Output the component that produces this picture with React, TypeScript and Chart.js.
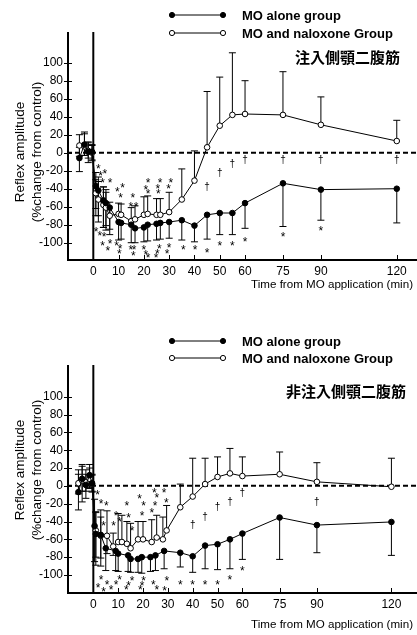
import React, { useEffect, useRef } from 'react';
import { Chart, registerables } from 'chart.js';
Chart.register(...registerables);

const FONT = "Arial, 'Liberation Sans', sans-serif";
const CJK = "'Noto Sans CJK JP', 'Noto Sans CJK SC', sans-serif";

// ---------- shared labels ----------
const xTickValues = [0, 10, 20, 30, 40, 50, 60, 75, 90, 120];
const yTickValues = [-100, -80, -60, -40, -20, 0, 20, 40, 60, 80, 100];
const legendLabels = ['MO alone group', 'MO and naloxone Group'];
const xTitle = 'Time from MO application (min)';
const yTitleLines = ['Reflex amplitude', '(%change from control)'];
const topTitle = '注入側顎二腹筋';
const bottomTitle = '非注入側顎二腹筋';

// ---------- top panel (注入側) ----------
const topTimes = [-5.5, -3.5, -2, -0.5, 1, 2, 4, 5, 6.5, 10, 11, 15, 16.5, 20, 21.5, 25, 26.5, 30, 35, 40, 45, 50, 55, 60, 75, 90, 120];
const topMeanAlone = [-6, 9, 1, 1, -37, -42, -53, -56, -61, -77, -78, -80, -84, -83, -80, -79, -78, -77, -75, -81, -69, -67, -67, -56, -34, -41, -40];
const topSdDownAlone = [15, 12, 12, 10, 25, 28, 30, 30, 30, 20, 18, 20, 16, 16, 18, 18, 18, 18, 22, 18, 27, 24, 24, 28, 48, 34, 38];
const topSdUpAlone = [12, 14, 10, 8, 15, 15, 15, 12, 0, 0, 0, 0, 0, 0, 0, 0, 0, 0, 0, 0, 0, 0, 0, 0, 0, 0, 0];
const topMeanNal = [8, 7, 2, 0, -45, -52, -58, -61, -70, -68, -69, -76, -74, -69, -68, -69, -69, -66, -52, -31, 6, 30, 42, 43, 42, 31, 13];
const topSdUpNal = [12, 14, 10, 8, 15, 20, 20, 20, 15, 12, 12, 15, 15, 20, 20, 18, 18, 22, 34, 33, 62, 54, 69, 37, 48, 31, 23];
const topSdDownNal = [12, 10, 8, 8, 25, 25, 25, 20, 15, 0, 0, 0, 0, 0, 0, 0, 0, 0, 0, 0, 0, 0, 0, 0, 0, 0, 0];
const topStars: [number, number][] = [
  [2.0, -15], [2.9, -23], [4.6, -21], [3.7, -31], [6.6, -31], [9.5, -41], [11.6, -36], [10.8, -47],
  [15.6, -47], [14.8, -57], [16.9, -57], [21.7, -31], [20.8, -38], [21.7, -43], [26.4, -31], [25.5, -37],
  [25.7, -43], [30.7, -31], [29.8, -37],
  [1.1, -85], [2.6, -89], [4.3, -90], [3.7, -101], [5.7, -106], [6.6, -98], [9.2, -101], [10.6, -104],
  [10.3, -109], [14.8, -105], [16.1, -105], [15.8, -112], [20, -105], [20.8, -111], [21.7, -114], [24.8, -114],
  [25.3, -109], [26.1, -104], [29.2, -109], [30, -103], [35.6, -105], [40.2, -105], [45, -108], [50, -101],
  [55, -101], [60, -96], [75, -90], [90, -84],
];
const topDaggers: [number, number][] = [[45, -38], [50, -23], [55, -12], [60, -8], [75, -8], [90, -8], [120, -8]];

// ---------- bottom panel (非注入側) ----------
const botTimesAlone = [-6, -4.5, -3, -1.5, -0.5, 0.5, 1, 3, 5, 9, 10, 14, 15, 18, 19.5, 23, 25, 28.5, 35, 40, 45, 50, 55, 60, 75, 90, 120];
const botMeanAlone = [-7, 8, 1, 12, 3, -45, -54, -55, -70, -73, -76, -78, -82, -82, -80, -80, -78, -73, -75, -79, -67, -65.5, -60, -53.5, -35.5, -44, -40.5];
const botSdDownAlone = [20, 26, 15, 15, 10, 40, 35, 35, 25, 22, 20, 18, 15, 15, 18, 16, 17, 20, 16, 18, 26, 28.5, 33, 29, 47, 31, 37.5];
const botSdUpAlone = [20, 16, 12, 12, 10, 30, 25, 20, 0, 0, 0, 0, 0, 0, 0, 0, 0, 0, 0, 0, 0, 0, 0, 0, 0, 0, 0];
const botTimesNal = [-6, -4.5, -3, -1.5, -0.5, 1, 3, 5.5, 8, 10, 11.5, 13.5, 15, 18, 20, 23.5, 25.5, 28, 29.5, 35, 40, 45, 50, 55, 60, 75, 90, 120];
const botMeanNal = [3, 6, 4, 8, 2, -50, -56, -56, -68, -63, -63, -65, -70, -60, -60, -63, -58, -60, -50, -24, -12, 2, 10, 14, 11, 13, 4.5, -1];
const botSdUpNal = [15, 16, 14, 12, 10, 20, 29, 28, 15, 32, 30, 25, 28, 20, 20, 25, 25, 25, 28, 26, 43, 29, 22.5, 28, 21.5, 25, 21.5, 32];
const botSdDownNal = [12, 12, 10, 10, 8, 30, 25, 20, 10, 0, 0, 0, 0, 0, 0, 0, 0, 0, 0, 0, 0, 0, 0, 0, 0, 0, 0, 0];
const botStars: [number, number][] = [
  [1.7, -7], [3.1, -17], [5.2, -20], [4.1, -42], [9.2, -31], [10.6, -37], [13.5, -20], [14.2, -33],
  [8.2, -42], [15.6, -48], [18.6, -12], [20.2, -20], [19.6, -31], [24.9, -19], [23.6, -27], [24.6, -5],
  [25.6, -10], [28.5, -5], [29.4, -16],
  [3.1, -102], [1.9, -112], [4.1, -116], [5.5, -108], [7.1, -114], [9.2, -108], [10.6, -102], [13.3, -114],
  [14.2, -109], [15.6, -104], [18.9, -114], [19.6, -109], [20.2, -104], [24.2, -108], [25.6, -114], [28.7, -115],
  [29.6, -104], [35, -108], [40, -108], [45, -108], [50, -108], [55, -103], [60, -92],
];
const botDaggers: [number, number][] = [[40, -44], [45, -35], [50, -24], [55, -18], [60, -8.5], [90, -18]];

type Group = { times: number[]; mean: number[]; sdUp: number[]; sdDown: number[]; filled: boolean };
type PanelCfg = {
  height: number; padTop: number; xAxisH: number;
  xMin: number; xMax: number; yMin: number; yMax: number;
  legendY: number[]; title: string; titleY: number; titleRight: number;
  yTitleCenter: number; xTitleY: number;
  groups: Group[]; stars: [number, number][]; daggers: [number, number][];
};

const panels: PanelCfg[] = [
  {
    height: 300, padTop: 32, xAxisH: 40, xMin: -10.4, xMax: 128, yMin: -119.2, yMax: 134.1,
    legendY: [15, 33], title: topTitle, titleY: 57, titleRight: 400, yTitleCenter: 152, xTitleY: 285,
    groups: [
      { times: topTimes, mean: topMeanAlone, sdUp: topSdUpAlone, sdDown: topSdDownAlone, filled: true },
      { times: topTimes, mean: topMeanNal, sdUp: topSdUpNal, sdDown: topSdDownNal, filled: false },
    ],
    stars: topStars, daggers: topDaggers,
  },
  {
    height: 315, padTop: 45, xAxisH: 42, xMin: -10.6, xMax: 130.3, yMin: -120.2, yMax: 135.6,
    legendY: [21, 38], title: bottomTitle, titleY: 71, titleRight: 406, yTitleCenter: 150, xTitleY: 305,
    groups: [
      { times: botTimesAlone, mean: botMeanAlone, sdUp: botSdUpAlone, sdDown: botSdDownAlone, filled: true },
      { times: botTimesNal, mean: botMeanNal, sdUp: botSdUpNal, sdDown: botSdDownNal, filled: false },
    ],
    stars: botStars, daggers: botDaggers,
  },
];

function makePlugin(cfg: PanelCfg) {
  return {
    id: 'figureDecor',
    beforeDatasetsDraw(chart: any) {
      const { ctx, chartArea: a, scales } = chart;
      const x = scales.x, y = scales.y;
      ctx.save();
      ctx.strokeStyle = '#000';
      // zero dashed line
      ctx.lineWidth = 2;
      ctx.setLineDash([5, 3]);
      const y0 = y.getPixelForValue(0);
      ctx.beginPath(); ctx.moveTo(a.left, y0); ctx.lineTo(a.right, y0); ctx.stroke();
      ctx.setLineDash([]);
      // axis lines
      ctx.beginPath(); ctx.moveTo(a.left + 1, a.top); ctx.lineTo(a.left + 1, a.bottom + 1); ctx.stroke();
      ctx.beginPath(); ctx.moveTo(a.left, a.bottom); ctx.lineTo(a.right, a.bottom); ctx.stroke();
      // MO application line at t=0
      const x0 = x.getPixelForValue(0);
      ctx.beginPath(); ctx.moveTo(x0, a.top); ctx.lineTo(x0, a.bottom); ctx.stroke();
      // ticks
      ctx.lineWidth = 1;
      yTickValues.forEach((v) => {
        const p = Math.round(y.getPixelForValue(v)) + 0.5;
        ctx.beginPath(); ctx.moveTo(a.left - 3, p); ctx.lineTo(a.left + 5, p); ctx.stroke();
      });
      xTickValues.forEach((v) => {
        const p = Math.round(x.getPixelForValue(v)) + 0.5;
        ctx.beginPath(); ctx.moveTo(p, a.bottom); ctx.lineTo(p, a.bottom - 5); ctx.stroke();
      });
      // error bars
      ctx.lineWidth = 1;
      cfg.groups.forEach((g) => {
        g.times.forEach((t, i) => {
          const px = x.getPixelForValue(t);
          const pm = y.getPixelForValue(g.mean[i]);
          const ends: number[] = [];
          if (g.sdDown[i] > 0) ends.push(g.mean[i] - g.sdDown[i]);
          if (g.sdUp[i] > 0) ends.push(g.mean[i] + g.sdUp[i]);
          ends.forEach((e) => {
            const pe = y.getPixelForValue(e);
            ctx.beginPath();
            ctx.moveTo(px, pm); ctx.lineTo(px, pe);
            ctx.moveTo(px - 3.5, pe); ctx.lineTo(px + 3.5, pe);
            ctx.stroke();
          });
        });
      });
      ctx.restore();
    },
    afterDatasetsDraw(chart: any) {
      const { ctx, scales } = chart;
      const x = scales.x, y = scales.y;
      ctx.save();
      ctx.fillStyle = '#000';
      ctx.strokeStyle = '#000';
      // significance marks
      ctx.textAlign = 'center';
      ctx.textBaseline = 'alphabetic';
      ctx.font = `12px ${FONT}`;
      cfg.stars.forEach(([t, v]) => {
        ctx.fillText('*', x.getPixelForValue(t), y.getPixelForValue(v) + 6.8);
      });
      ctx.font = `10px ${FONT}`;
      cfg.daggers.forEach(([t, v]) => {
        ctx.fillText('†', x.getPixelForValue(t), y.getPixelForValue(v) + 3);
      });
      // legend
      cfg.legendY.forEach((ly, i) => {
        ctx.lineWidth = 1;
        ctx.beginPath(); ctx.moveTo(172, ly); ctx.lineTo(223, ly); ctx.stroke();
        [172, 223].forEach((cx) => {
          ctx.beginPath(); ctx.arc(cx, ly, 2.6, 0, Math.PI * 2);
          ctx.fillStyle = i === 0 ? '#000' : '#fff';
          ctx.fill(); ctx.stroke();
        });
        ctx.fillStyle = '#000';
        ctx.textAlign = 'left';
        ctx.textBaseline = 'middle';
        ctx.font = `bold 13px ${FONT}`;
        ctx.fillText(legendLabels[i], 242, ly + 1);
      });
      // panel title
      ctx.textAlign = 'right';
      ctx.textBaseline = 'middle';
      ctx.font = `bold 15px ${CJK}`;
      ctx.fillText(cfg.title, cfg.titleRight, cfg.titleY);
      // x axis title
      ctx.font = `11.6px ${FONT}`;
      ctx.fillText(xTitle, 413, cfg.xTitleY);
      // y axis title
      ctx.save();
      ctx.translate(0, cfg.yTitleCenter);
      ctx.rotate(-Math.PI / 2);
      ctx.textAlign = 'center';
      ctx.font = `13.5px ${FONT}`;
      ctx.fillText(yTitleLines[0], 0, 20);
      ctx.fillText(yTitleLines[1], 0, 37);
      ctx.restore();
      ctx.restore();
    },
  };
}

function Panel({ cfg, top }: { cfg: PanelCfg; top: number }) {
  const ref = useRef<HTMLCanvasElement | null>(null);
  useEffect(() => {
    if (!ref.current) return;
    const datasets = cfg.groups.map((g) => ({
      data: g.times.map((t, i) => ({ x: t, y: g.mean[i] })),
      borderColor: '#000',
      borderWidth: 1,
      pointRadius: 2.8,
      pointBorderWidth: 1,
      pointBorderColor: '#000',
      pointBackgroundColor: g.filled ? '#000' : '#fff',
      tension: 0,
      fill: false,
    }));
    const chart = new Chart(ref.current, {
      type: 'line',
      data: { datasets },
      options: {
        responsive: false,
        animation: false,
        devicePixelRatio: 1,
        layout: { autoPadding: false, padding: { top: cfg.padTop, right: 0, left: 0, bottom: 0 } },
        plugins: { legend: { display: false }, tooltip: { enabled: false }, title: { display: false } },
        scales: {
          x: {
            type: 'linear',
            min: cfg.xMin,
            max: cfg.xMax,
            afterBuildTicks: (s: any) => { s.ticks = xTickValues.map((v) => ({ value: v })); },
            afterFit: (s: any) => { s.height = cfg.xAxisH; s.paddingLeft = 0; s.paddingRight = 0; },
            grid: { display: false, drawTicks: false },
            border: { display: false },
            ticks: { autoSkip: false, maxRotation: 0, padding: 4, color: '#000', font: { family: FONT, size: 12 }, callback: (v: any) => String(v) },
          },
          y: {
            type: 'linear',
            min: cfg.yMin,
            max: cfg.yMax,
            afterBuildTicks: (s: any) => { s.ticks = yTickValues.map((v) => ({ value: v })); },
            afterFit: (s: any) => { s.width = 67; s.paddingTop = 0; s.paddingBottom = 0; },
            grid: { display: false, drawTicks: false },
            border: { display: false },
            ticks: { autoSkip: false, padding: 4, color: '#000', font: { family: FONT, size: 12 }, callback: (v: any) => String(v) },
          },
        },
      } as any,
      plugins: [makePlugin(cfg)],
    });
    return () => chart.destroy();
  }, [cfg]);
  return (
    <canvas
      ref={ref}
      width={417}
      height={cfg.height}
      style={{ position: 'absolute', left: 0, top, width: 417, height: cfg.height }}
    />
  );
}

export default function App() {
  return (
    <div style={{ position: 'fixed', left: 0, top: 0, width: 417, height: 635, background: '#fff' }}>
      <Panel cfg={panels[0]} top={0} />
      <Panel cfg={panels[1]} top={320} />
    </div>
  );
}
